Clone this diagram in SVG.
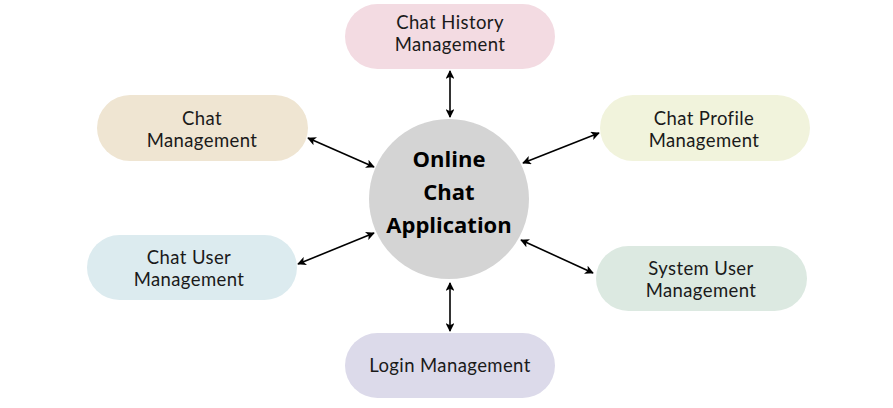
<svg xmlns="http://www.w3.org/2000/svg" width="893" height="408" viewBox="0 0 893 408">
<defs>
<style>
.box{stroke:none}
.lbl{font-family:"Lato","Noto Sans",sans-serif;font-size:18.5px;letter-spacing:0.4px;fill:#1a1a1a;text-anchor:middle}
.hub{font-family:"Open Sans","Liberation Sans",sans-serif;font-weight:bold;font-size:22px;fill:#000;text-anchor:middle}
.con{stroke:#000;stroke-width:1.6;fill:none;marker-start:url(#ah);marker-end:url(#ah)}
</style>
<marker id="ah" viewBox="0 0 10 10" refX="9" refY="5" markerWidth="5.5" markerHeight="5.5" orient="auto-start-reverse" markerUnits="strokeWidth">
<path d="M0,0 L10,5 L0,10 L2.5,5 Z" fill="#000"/>
</marker>
</defs>
<rect width="893" height="408" fill="#fff"/>
<g id="connectors">
<line class="con" x1="450" y1="71" x2="450" y2="117"/>
<line class="con" x1="450" y1="283" x2="450" y2="331"/>
<line class="con" x1="308" y1="138" x2="374" y2="167"/>
<line class="con" x1="298" y1="264" x2="374" y2="233"/>
<line class="con" x1="523" y1="163" x2="599" y2="133"/>
<line class="con" x1="521" y1="240" x2="593" y2="273"/>
</g>
<g id="hub">
<circle cx="449" cy="199" r="80" fill="#d4d4d4"/>
<text class="hub" x="449" y="167">Online</text>
<text class="hub" x="449" y="200">Chat</text>
<text class="hub" x="449" y="233">Application</text>
</g>
<g id="chat-history">
<rect class="box" x="345" y="4" width="210" height="65" rx="32.5" fill="#f3dbe2"/>
<text class="lbl" x="450" y="28.5">Chat History</text>
<text class="lbl" x="450" y="51">Management</text>
</g>
<g id="chat-management">
<rect class="box" x="97" y="95" width="211" height="66" rx="33" fill="#efe5d2"/>
<text class="lbl" x="202" y="124.5">Chat</text>
<text class="lbl" x="202" y="147">Management</text>
</g>
<g id="chat-profile">
<rect class="box" x="600" y="95" width="210" height="66" rx="33" fill="#f1f3dc"/>
<text class="lbl" x="704" y="124.5">Chat Profile</text>
<text class="lbl" x="704" y="147">Management</text>
</g>
<g id="chat-user">
<rect class="box" x="87" y="235" width="210" height="65" rx="32.5" fill="#dcebef"/>
<text class="lbl" x="189" y="263.5">Chat User</text>
<text class="lbl" x="189" y="286">Management</text>
</g>
<g id="system-user">
<rect class="box" x="596" y="246" width="211" height="65" rx="32.5" fill="#dce9e1"/>
<text class="lbl" x="701" y="274.5">System User</text>
<text class="lbl" x="701" y="297">Management</text>
</g>
<g id="login">
<rect class="box" x="345" y="333" width="210" height="65" rx="32.5" fill="#dcdaea"/>
<text class="lbl" x="450" y="372">Login Management</text>
</g>
</svg>
